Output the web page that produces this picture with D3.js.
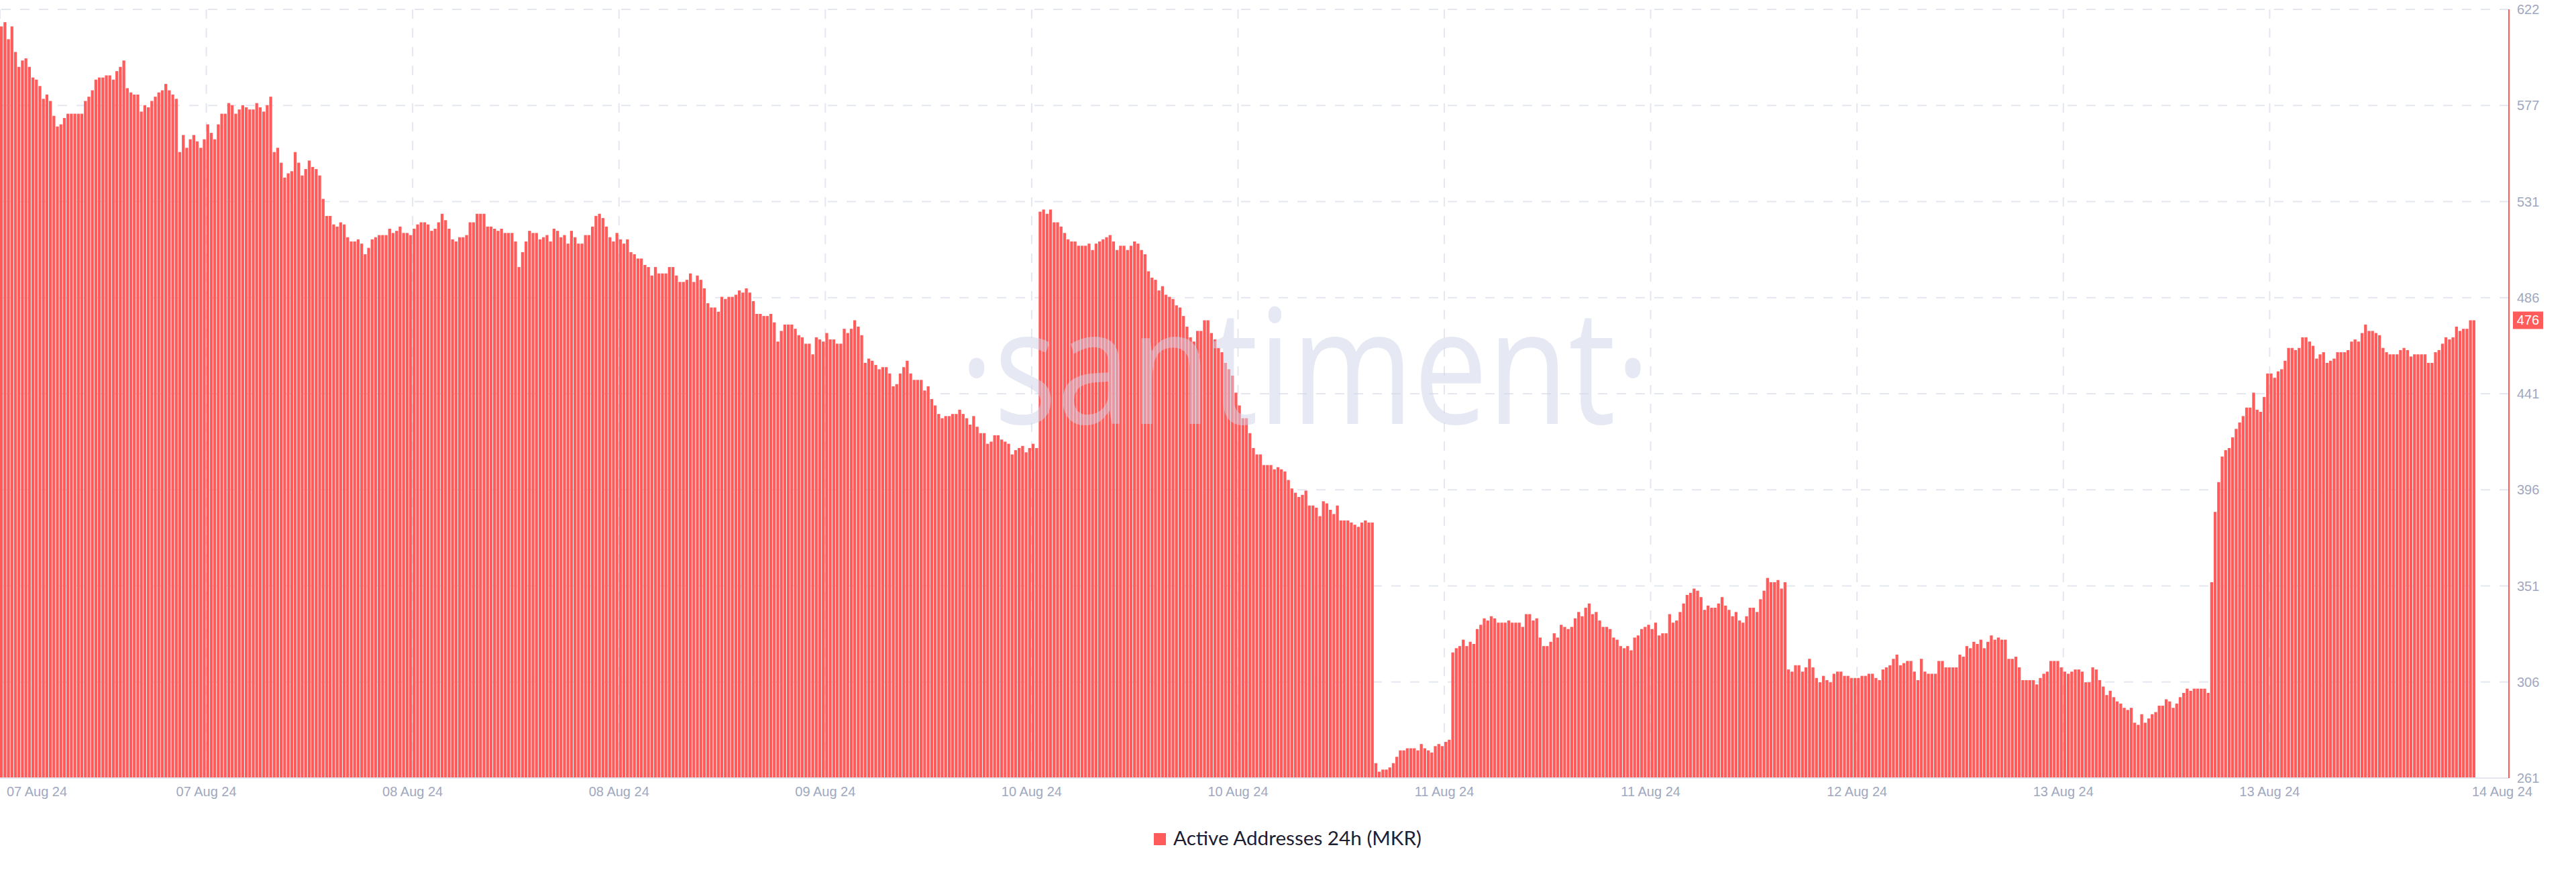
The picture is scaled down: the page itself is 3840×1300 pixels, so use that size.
<!DOCTYPE html>
<html><head><meta charset="utf-8">
<script src="https://cdn.jsdelivr.net/npm/d3@7"></script>
<style>html,body{margin:0;padding:0;background:#fff;} svg{display:block;}</style>
</head><body>
<svg id="chart" width="3840" height="1300"></svg>
<script>
// ---------------- data ----------------
const seriesName = "Active Addresses 24h (MKR)";
const values = [
614,616,608,614,602,595,598,599,595,590,
589,586,580,582,579,572,567,568,571,573,
573,573,573,573,579,581,584,589,590,590,
591,591,589,593,595,598,585,583,582,582,
574,577,576,579,581,583,584,587,584,582,
580,555,563,557,561,563,560,557,561,568,
564,561,568,573,573,578,577,573,575,577,
576,575,575,578,576,574,577,581,555,557,
550,543,545,546,555,550,544,547,551,548,
547,544,533,525,525,521,520,522,521,515,
513,513,514,512,507,510,514,515,516,516,
516,519,517,518,520,517,517,516,519,521,
522,522,521,518,519,522,526,523,519,514,
513,515,515,516,522,522,526,526,526,520,
520,519,518,519,517,517,517,513,501,508,
513,518,517,517,514,515,516,513,519,518,
515,516,512,518,515,512,512,516,516,520,
525,526,524,520,515,513,517,514,512,514,
508,507,505,505,
502,501,497,501,498,498,498,501,501,497,
494,494,495,498,494,497,495,491,484,482,
482,480,487,486,487,487,488,490,489,491,
489,485,479,479,478,478,479,475,466,471,
474,474,474,472,469,468,465,465,460,468,
467,466,470,467,467,465,465,472,470,472,
476,473,469,456,458,457,455,453,454,454,
451,445,446,451,454,457,451,448,448,448,
443,445,439,436,432,430,431,431,432,432,
434,432,430,427,431,426,423,423,418,419,
422,422,420,419,418,413,415,416,417,414,
416,418,416,
527,528,526,528,522,522,520,517,514,513,
513,511,511,511,512,509,512,513,514,515,
516,513,509,511,511,509,511,513,512,509,
507,499,496,495,490,492,488,487,486,483,
482,478,473,468,466,471,471,476,476,470,
467,463,461,456,453,450,442,436,430,430,
423,416,413,413,408,408,408,406,407,406,
405,401,397,395,393,394,396,389,389,388,
384,391,390,387,385,389,382,382,382,381,
380,379,381,382,381,381,
268,264,265,265,266,268,271,274,274,275,
275,275,274,277,275,274,273,276,277,276,
278,279,
320,322,323,326,323,325,324,331,333,336,
335,337,336,334,334,334,335,334,334,334,
332,338,338,335,336,327,323,323,325,329,
327,333,332,331,332,336,339,337,341,343,
338,339,335,332,332,331,327,326,323,322,
323,321,327,328,331,332,333,331,334,328,
329,329,338,334,335,339,343,347,348,350,
349,346,340,342,341,341,343,346,342,340,
337,339,335,334,337,341,341,339,345,349,
355,353,353,354,350,353,
312,311,314,314,311,313,317,313,308,306,
309,307,306,310,311,311,309,309,308,308,
308,309,309,310,310,308,307,312,313,314,
317,319,314,315,316,316,311,307,317,311,
310,310,310,316,316,313,313,313,313,319,
318,323,322,325,324,326,322,325,328,326,
327,326,326,317,317,318,313,307,307,307,
307,305,308,310,311,316,316,316,313,311,
310,311,312,312,311,306,306,313,312,307,
304,300,302,299,297,296,294,293,294,287,
286,291,287,289,291,292,295,295,298,297,
294,296,299,301,303,302,303,303,303,303,
301,
353,386,400,412,415,416,421,425,428,431,
435,435,442,434,433,440,451,451,449,452,
453,457,463,463,462,463,468,468,466,464,
458,460,461,456,457,458,461,461,461,462,
466,467,466,470,474,471,471,470,469,463,
461,460,460,460,462,463,462,459,460,460,
460,460,456,456,461,462,465,468,467,468,
473,471,472,472,476,476
];
const xTickLabels = ["07 Aug 24","07 Aug 24","08 Aug 24","08 Aug 24","09 Aug 24","10 Aug 24",
                     "10 Aug 24","11 Aug 24","11 Aug 24","12 Aug 24","13 Aug 24","13 Aug 24"];
const xTickEvery = 59;            // bars between date ticks
const lastDateLabel = "14 Aug 24";
const yDomain = [261, 622];
const yTickLabels = ["261","306","351","396","441","486","531","577","622"];
const watermarkText = "\u00B7santiment\u00B7";

// ---------------- layout ----------------
const W = 3840, H = 1300;
const plotTop = 14, plotBottom = 1160, axisX = 3740, barsRight = 3690;
const red = "#ff5b5b", gridCol = "#e4e7f0", tickCol = "#a0a8c0";

const svg = d3.select("#chart");
svg.append("rect").attr("width", W).attr("height", H).attr("fill", "#fff");

const x = d3.scaleBand().domain(d3.range(values.length))
  .range([0, barsRight]).paddingInner(0.18).paddingOuter(0).align(0);
const y = d3.scaleLinear().domain(yDomain).range([plotBottom, plotTop]);
const yTicks = yTickLabels.map((_, i) => yDomain[0] + i * (yDomain[1] - yDomain[0]) / (yTickLabels.length - 1));
const xTickIdx = xTickLabels.map((_, i) => i * xTickEvery);

// grid
const grid = svg.append("g");
grid.selectAll("line.h").data(yTicks).join("line").attr("class", "h")
  .attr("x1", axisX).attr("x2", 0).attr("y1", d => y(d)).attr("y2", d => y(d))
  .attr("stroke", gridCol).attr("stroke-width", 2).attr("stroke-dasharray", "14,14");
grid.selectAll("line.v").data(xTickIdx).join("line").attr("class", "v")
  .attr("x1", d => x(d)).attr("x2", d => x(d)).attr("y1", plotTop).attr("y2", plotBottom)
  .attr("stroke", gridCol).attr("stroke-width", 2).attr("stroke-dasharray", "14,14");

// bars
svg.append("g").selectAll("rect").data(values).join("rect")
  .attr("x", (d, i) => x(i)).attr("width", x.bandwidth())
  .attr("y", d => y(d)).attr("height", d => y(yDomain[0]) - y(d))
  .attr("fill", red);

// watermark (semi-transparent, on top)
svg.append("text").text(watermarkText)
  .attr("x", 1430).attr("y", 632)
  .attr("font-family", "'Open Sans', sans-serif").attr("font-size", 238)
  .attr("textLength", 1030).attr("lengthAdjust", "spacingAndGlyphs")
  .attr("fill", "#cdd3e8").attr("fill-opacity", 0.5);

// bottom axis line
svg.append("line").attr("x1", 0).attr("x2", axisX).attr("y1", plotBottom).attr("y2", plotBottom)
  .attr("stroke", gridCol).attr("stroke-width", 2);
// right axis line
svg.append("line").attr("x1", axisX).attr("x2", axisX).attr("y1", plotTop).attr("y2", plotBottom)
  .attr("stroke", red).attr("stroke-width", 2);

// y tick labels
svg.append("g").selectAll("text").data(yTicks).join("text")
  .attr("x", axisX + 12).attr("y", d => y(d)).attr("dy", "0.35em")
  .attr("font-family", "'Liberation Sans', Arial, sans-serif").attr("font-size", 20)
  .attr("fill", tickCol).text((d, i) => yTickLabels[i]);

// x tick labels
svg.append("g").selectAll("text").data(xTickIdx).join("text")
  .attr("x", (d, i) => i === 0 ? 10 : x(d))
  .attr("text-anchor", (d, i) => i === 0 ? "start" : "middle")
  .attr("y", 1187)
  .attr("font-family", "'Liberation Sans', Arial, sans-serif").attr("font-size", 20)
  .attr("fill", tickCol).text((d, i) => xTickLabels[i]);
svg.append("text").attr("x", 3730).attr("y", 1187).attr("text-anchor", "middle")
  .attr("font-family", "'Liberation Sans', Arial, sans-serif").attr("font-size", 20)
  .attr("fill", tickCol).text(lastDateLabel);

// last value badge
const lastVal = values[values.length - 1];
svg.append("rect").attr("x", 3746).attr("y", y(lastVal) - 13).attr("width", 45).attr("height", 26).attr("fill", red);
svg.append("text").attr("x", 3768.5).attr("y", y(lastVal)).attr("dy", "0.35em").attr("text-anchor", "middle")
  .attr("font-family", "'Liberation Sans', Arial, sans-serif").attr("font-size", 20)
  .attr("fill", "#fff").text(lastVal);

// legend
svg.append("rect").attr("x", 1720).attr("y", 1242).attr("width", 18).attr("height", 18).attr("fill", red);
svg.append("text").attr("x", 1749).attr("y", 1260)
  .attr("font-family", "Lato, 'Open Sans', sans-serif").attr("font-size", 28)
  .attr("textLength", 370).attr("lengthAdjust", "spacingAndGlyphs")
  .attr("fill", "#1d2033").text(seriesName);
</script>
</body></html>
